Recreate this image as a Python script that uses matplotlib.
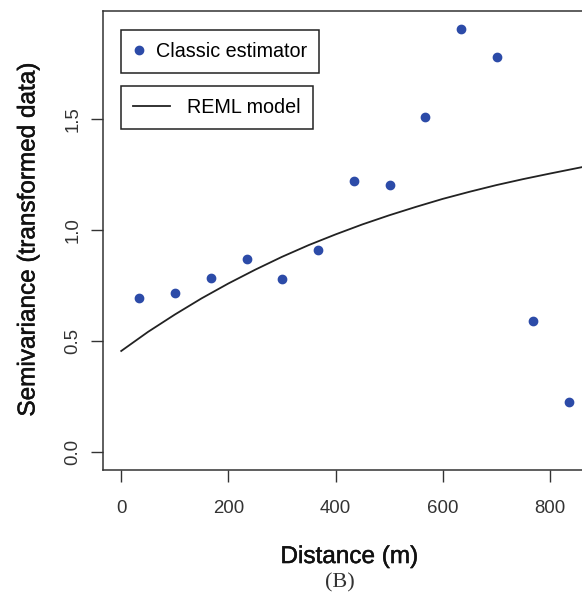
import matplotlib
matplotlib.use("Agg")
import matplotlib.pyplot as plt
import matplotlib.patheffects as pe
from matplotlib.lines import Line2D

plt.rcParams["font.family"] = ["Liberation Sans", "DejaVu Sans"]

# ───────────── data ─────────────
lag_dist = [33, 100, 167, 234, 300, 367, 434, 501, 567, 634, 701, 768, 835]
semivar = [0.694, 0.717, 0.784, 0.869, 0.779, 0.910, 1.221, 1.203, 1.510,
           1.905, 1.780, 0.590, 0.225]

# fitted REML model curve
model_dist = [0, 50, 100, 150, 200, 250, 300, 350, 400, 450, 500, 550,
              600, 650, 700, 750, 800, 860, 900]
model_gamma = [0.455, 0.541, 0.619, 0.692, 0.759, 0.821, 0.879, 0.932,
               0.980, 1.025, 1.066, 1.104, 1.140, 1.172, 1.202, 1.229,
               1.254, 1.283, 1.300]

xticks = [0, 200, 400, 600, 800]
yticks = [0.0, 0.5, 1.0, 1.5]
ytick_labels = ["0.0", "0.5", "1.0", "1.5"]

POINT_COLOR = "#2C4BA8"
LINE_COLOR = "#222222"

W, H = 582, 593
fig = plt.figure(figsize=(W / 100, H / 100), dpi=100)
# axes box: left 103px, top 11px, bottom 470px, right edge cut by the image
ax = fig.add_axes([103 / W, (H - 470) / H, (595 - 103) / W, (470 - 11) / H])

ax.plot(model_dist, model_gamma, color=LINE_COLOR, lw=1.3)
ax.plot(lag_dist, semivar, "o", color=POINT_COLOR, ms=6, mec=POINT_COLOR)

ax.set_xlim(-34, 884)
ax.set_ylim(-0.081, 1.986)

ax.set_xticks(xticks)
ax.set_xticklabels([str(t) for t in xticks])
ax.set_yticks(yticks)
ax.set_yticklabels(ytick_labels, rotation=90, va="center")

ax.tick_params(axis="both", direction="out", length=8.5, width=1.0,
               labelsize=13.4, colors="#333333", labelcolor="#333333")
ax.tick_params(axis="x", pad=13)
ax.tick_params(axis="y", pad=7)

for sp in ax.spines.values():
    sp.set_linewidth(1.1)
    sp.set_color("#333333")

# axis titles look a touch heavier than regular in the original
heavy = [pe.withStroke(linewidth=0.35, foreground="#111111")]
xl = ax.set_xlabel("Distance (m)", fontsize=17.5, labelpad=21,
                   color="#111111")
yl = ax.set_ylabel("Semivariance (transformed data)", fontsize=17.5,
                   labelpad=18, color="#111111")
xl.set_path_effects(heavy)
yl.set_path_effects(heavy)

# two separate framed legend boxes, as in the original
fs = 14.2
h1 = Line2D([], [], ls="none", marker="o", ms=6, color=POINT_COLOR)
leg1 = ax.legend([h1], ["Classic estimator"], loc="upper left",
                 bbox_to_anchor=((121 - 103) / 492, (470 - 30) / 459),
                 borderaxespad=0, fontsize=fs, fancybox=False,
                 edgecolor="#222222", framealpha=1, borderpad=0.6,
                 handlelength=0.6, handletextpad=0.6)
leg1.get_frame().set_linewidth(1.1)
ax.add_artist(leg1)

h2 = Line2D([], [], color=LINE_COLOR, lw=1.3)
leg2 = ax.legend([h2], ["REML model"], loc="upper left",
                 bbox_to_anchor=((121 - 103) / 492, (470 - 86) / 459),
                 borderaxespad=0, fontsize=fs, fancybox=False,
                 edgecolor="#222222", framealpha=1, borderpad=0.6,
                 handlelength=1.9, handletextpad=0.85)
leg2.get_frame().set_linewidth(1.1)

fig.text(340 / W, 1 - 583 / H, "(B)", ha="center", va="center",
         fontsize=16, family=["Liberation Serif", "DejaVu Serif"],
         color="#333333")

fig.savefig("out.png", dpi=100)
